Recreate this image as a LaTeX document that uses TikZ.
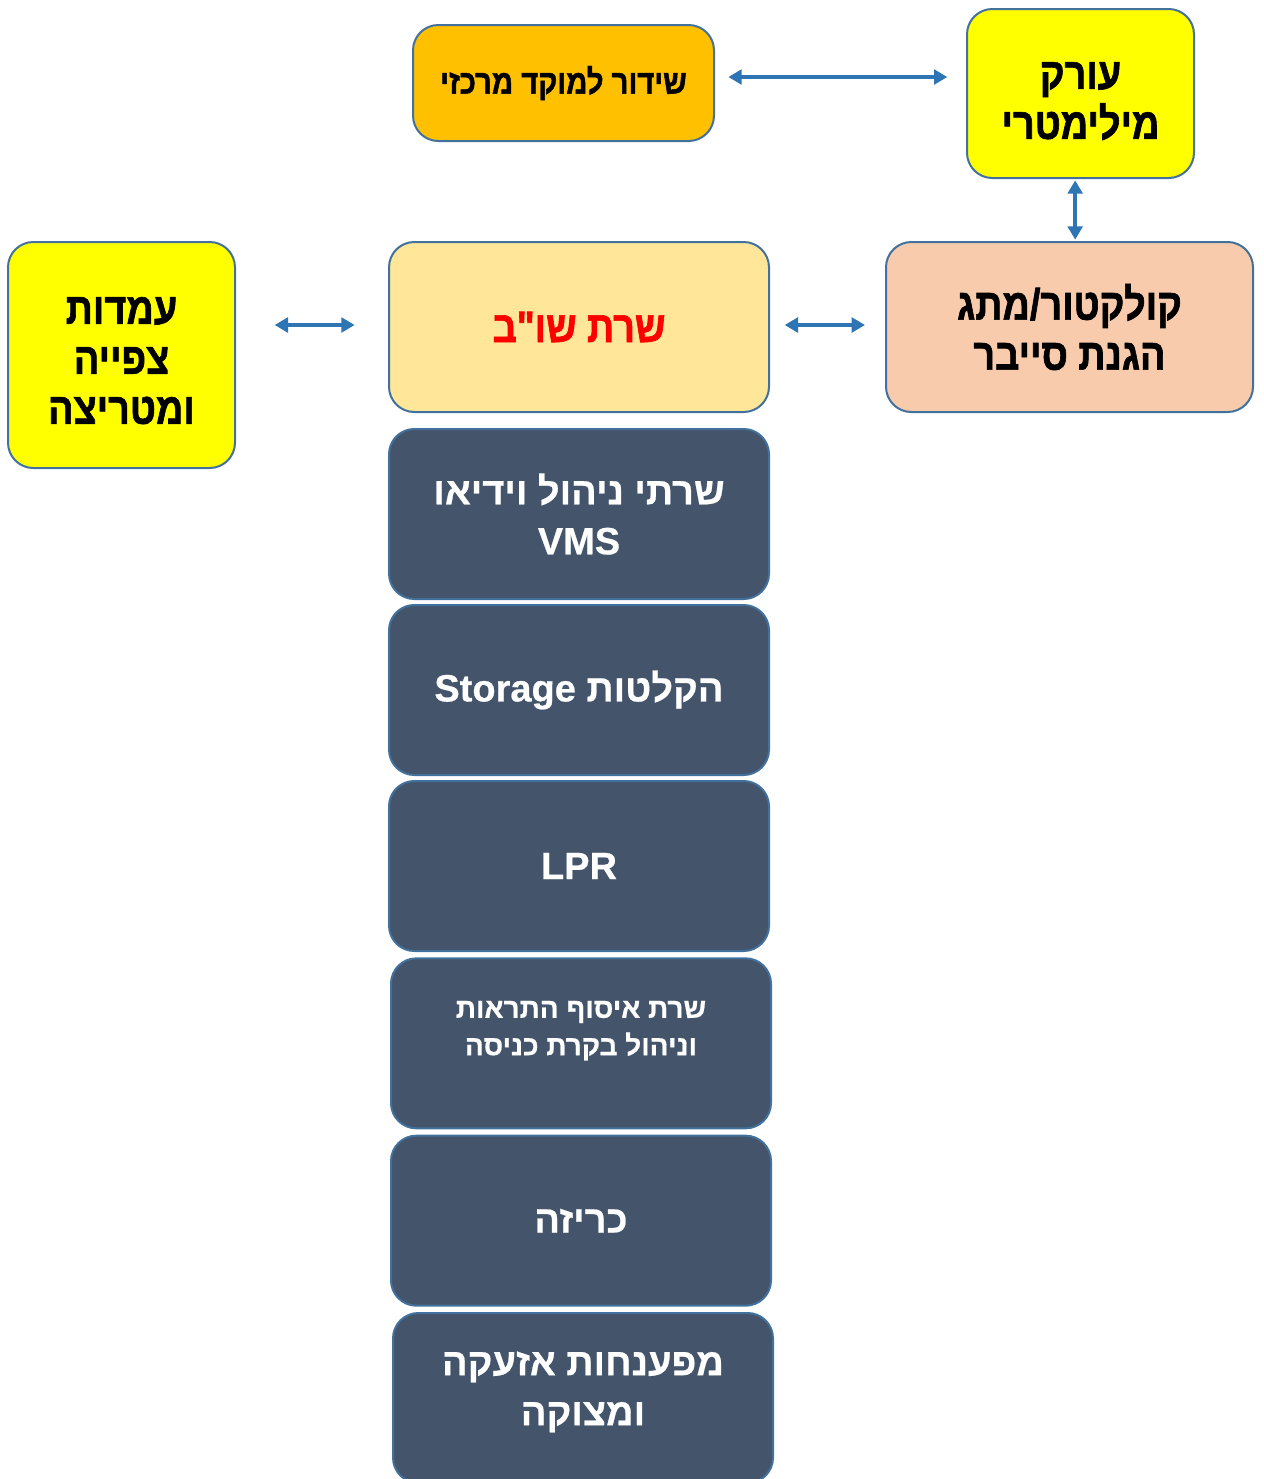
\documentclass[tikz,border=0pt]{standalone}
\usepackage{fontspec}
\setmainfont{Liberation Sans}
\newfontfamily\hebfont[Script=Hebrew,BoldFeatures={FakeBold=0.6}]{Liberation Sans}
\newfontfamily\hebnarrow[Script=Hebrew,FakeStretch=0.86,BoldFeatures={FakeBold=1.4}]{Liberation Sans}
\TeXXeTstate=1
\usetikzlibrary{arrows.meta,positioning}
\definecolor{boxline}{HTML}{41719C}
\definecolor{linkblue}{HTML}{2E75B6}
\definecolor{sendorange}{HTML}{FFC000}
\definecolor{hotyellow}{HTML}{FFFF00}
\definecolor{cyberpeach}{HTML}{F8CBAD}
\definecolor{serverlight}{HTML}{FFE699}
\definecolor{darkslate}{HTML}{44546A}
\definecolor{alertred}{HTML}{FF0000}
\tikzset{
  >=Triangle,
  box/.style={
    rectangle, rounded corners=19pt, draw=boxline, line width=1.5pt,
    align=center, inner sep=0pt
  },
  topbox/.style={
    box, text=black, font=\hebnarrow\bfseries\fontsize{33}{37.5}\selectfont
  },
  darkbox/.style={
    box, fill=darkslate, text=white,
    minimum width=285pt, minimum height=127.5pt,
    font=\hebfont\bfseries\fontsize{28.5}{37.5}\selectfont
  },
  link/.style={{Triangle[length=10pt,width=11pt]}-{Triangle[length=10pt,width=11pt]}, line width=2.6pt, draw=linkblue}
}
\newcommand{\heb}[1]{\beginR #1\endR}

\begin{document}
\begin{tikzpicture}[x=0.75pt, y=-0.75pt, node distance=3pt]
\useasboundingbox (0,0) rectangle (1264,1479);
% top row
\node[topbox, fill=sendorange, minimum width=225.75pt, minimum height=87pt,
  font=\hebnarrow\bfseries\fontsize{25.5}{30}\selectfont] (shidur) at (563.5,83) {\heb{שידור למוקד מרכזי}};
\node[topbox, fill=hotyellow, minimum width=170.25pt, minimum height=126.75pt] (orek) at (1080.5,93.5) {~\\[-6pt]\heb{עורק}\\\heb{מילימטרי}};
% middle row
\node[topbox, fill=serverlight, minimum width=285pt, minimum height=127.5pt, text=alertred] (sob) at (579,327) {\heb{שרת שו"ב}};
\node[topbox, fill=cyberpeach, minimum width=275.25pt, minimum height=127.5pt] (collector) at (1069.5,327) {\heb{קולקטור/מתג}\\\heb{הגנת סייבר}};
\node[topbox, fill=hotyellow, minimum width=170.25pt, minimum height=169.5pt] (emdot) at (121.5,355) {~\\[-9pt]\heb{עמדות}\\\heb{צפייה}\\\heb{ומטריצה}};
% server stack
\node[darkbox] (vms) at (579,514) {\heb{שרתי ניהול וידיאו}\\VMS};
\node[darkbox, below=of vms] (storage) {\heb{הקלטות \beginL Storage\endL}};
\node[darkbox, below=of storage] (lpr) {LPR};
\node[darkbox, below=4pt of lpr, xshift=1.5pt, font=\hebfont\bfseries\fontsize{21}{28}\selectfont] (access) {\heb{שרת איסוף התראות}\\\heb{וניהול בקרת כניסה}\\[-5pt]~};
\node[darkbox, below=4pt of access] (kriza) {\heb{כריזה}};
\node[darkbox, below=4pt of kriza, xshift=1.5pt] (mefanchot) {\heb{מפענחות אזעקה}\\\heb{ומצוקה}\\[-23pt]~};
% links
\draw[link, shorten <=10pt, shorten >=14pt] ([yshift=4.5pt]shidur.east) -- ([yshift=4.5pt]shidur.east -| orek.west);
\draw[link, shorten <=1pt, shorten >=1pt] ([xshift=-4pt]orek.south) -- ([xshift=-4pt]orek.south |- collector.north);
\draw[link, shorten <=11pt, shorten >=15pt] ([yshift=1.5pt]sob.east) -- ([yshift=1.5pt]sob.east -| collector.west);
\draw[link, shorten <=29pt, shorten >=25pt] ([yshift=1.5pt]sob.west -| emdot.east) -- ([yshift=1.5pt]sob.west);
\end{tikzpicture}
\end{document}
